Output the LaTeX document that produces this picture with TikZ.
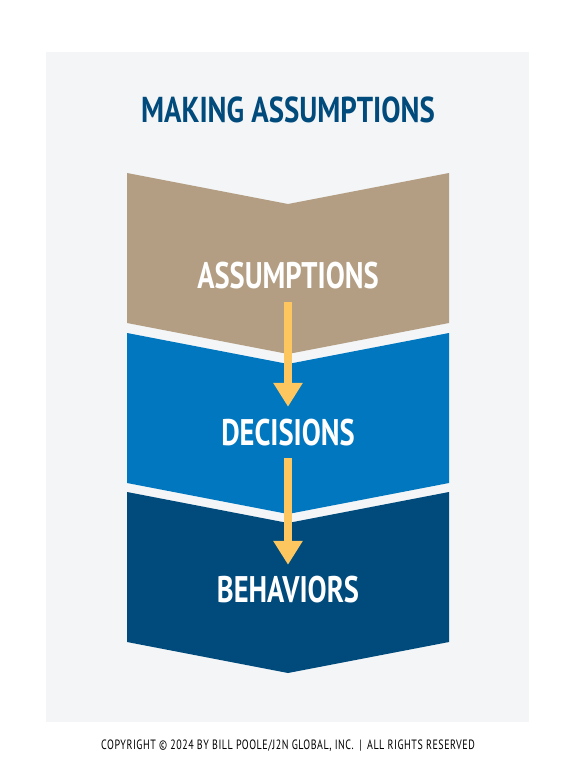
\documentclass[tikz,border=0pt]{standalone}
\usepackage{fontspec}
\usepackage{tikz}
\usetikzlibrary{positioning,arrows.meta}
\usepackage{xcolor}
\newfontfamily\condfont[FakeStretch=0.77]{PT Sans}
\newfontfamily\headfont[FakeStretch=0.8]{PT Sans}
\newfontfamily\notefont[FakeStretch=0.74,LetterSpace=4]{PT Sans}
\definecolor{panel}{HTML}{F3F5F7}
\definecolor{tan}{HTML}{B39E83}
\definecolor{midblue}{HTML}{0077BE}
\definecolor{navy}{HTML}{004A7C}
\definecolor{gold}{HTML}{FDC65E}
\tikzset{
  steplabel/.style={text=white, inner sep=0pt, text height=26pt, text depth=0pt,
    font=\condfont\bfseries\fontsize{37}{37}\selectfont},
  flowarrow/.style={draw=gold, line width=8pt,
    -{Triangle[width=28pt,length=24pt,fill=gold]}}
}

\begin{document}
\begin{tikzpicture}[x=1pt,y=-1pt]
      \useasboundingbox (0,0) rectangle (576,770);
      \fill[white] (0,0) rectangle (576,770);
      \fill[panel] (46,52) rectangle (529,722);
      \node[text=navy, inner sep=0pt, font=\headfont\bfseries\fontsize{36}{36}\selectfont]
        (title) at (288,110) {MAKING ASSUMPTIONS};
      % three chevrons
      \foreach \top/\col in {173/tan, 333/midblue, 492/navy} {
        \fill[\col] (127,\top) -- (288,\top+31) -- (449,\top) -- (449,\top+150)
          -- (288,\top+181) -- (127,\top+150) -- cycle;
      }
      \node[steplabel] (assum) at (288,275) {ASSUMPTIONS};
      \node[steplabel] (decis) at (288,432) {DECISIONS};
      \node[steplabel] (behav) at (288,589) {BEHAVIORS};
      \draw[flowarrow, shorten <=14pt, shorten >=12pt] (assum) -- (decis);
      \draw[flowarrow, shorten <=13pt, shorten >=11pt] (decis) -- (behav);
      \node[inner sep=0pt, font=\notefont\fontsize{13.5}{13.5}\selectfont]
        (note) at (288,746) {COPYRIGHT © 2024 BY BILL POOLE/J2N GLOBAL, INC. \,|\, ALL RIGHTS RESERVED};
    \end{tikzpicture}
\end{document}
